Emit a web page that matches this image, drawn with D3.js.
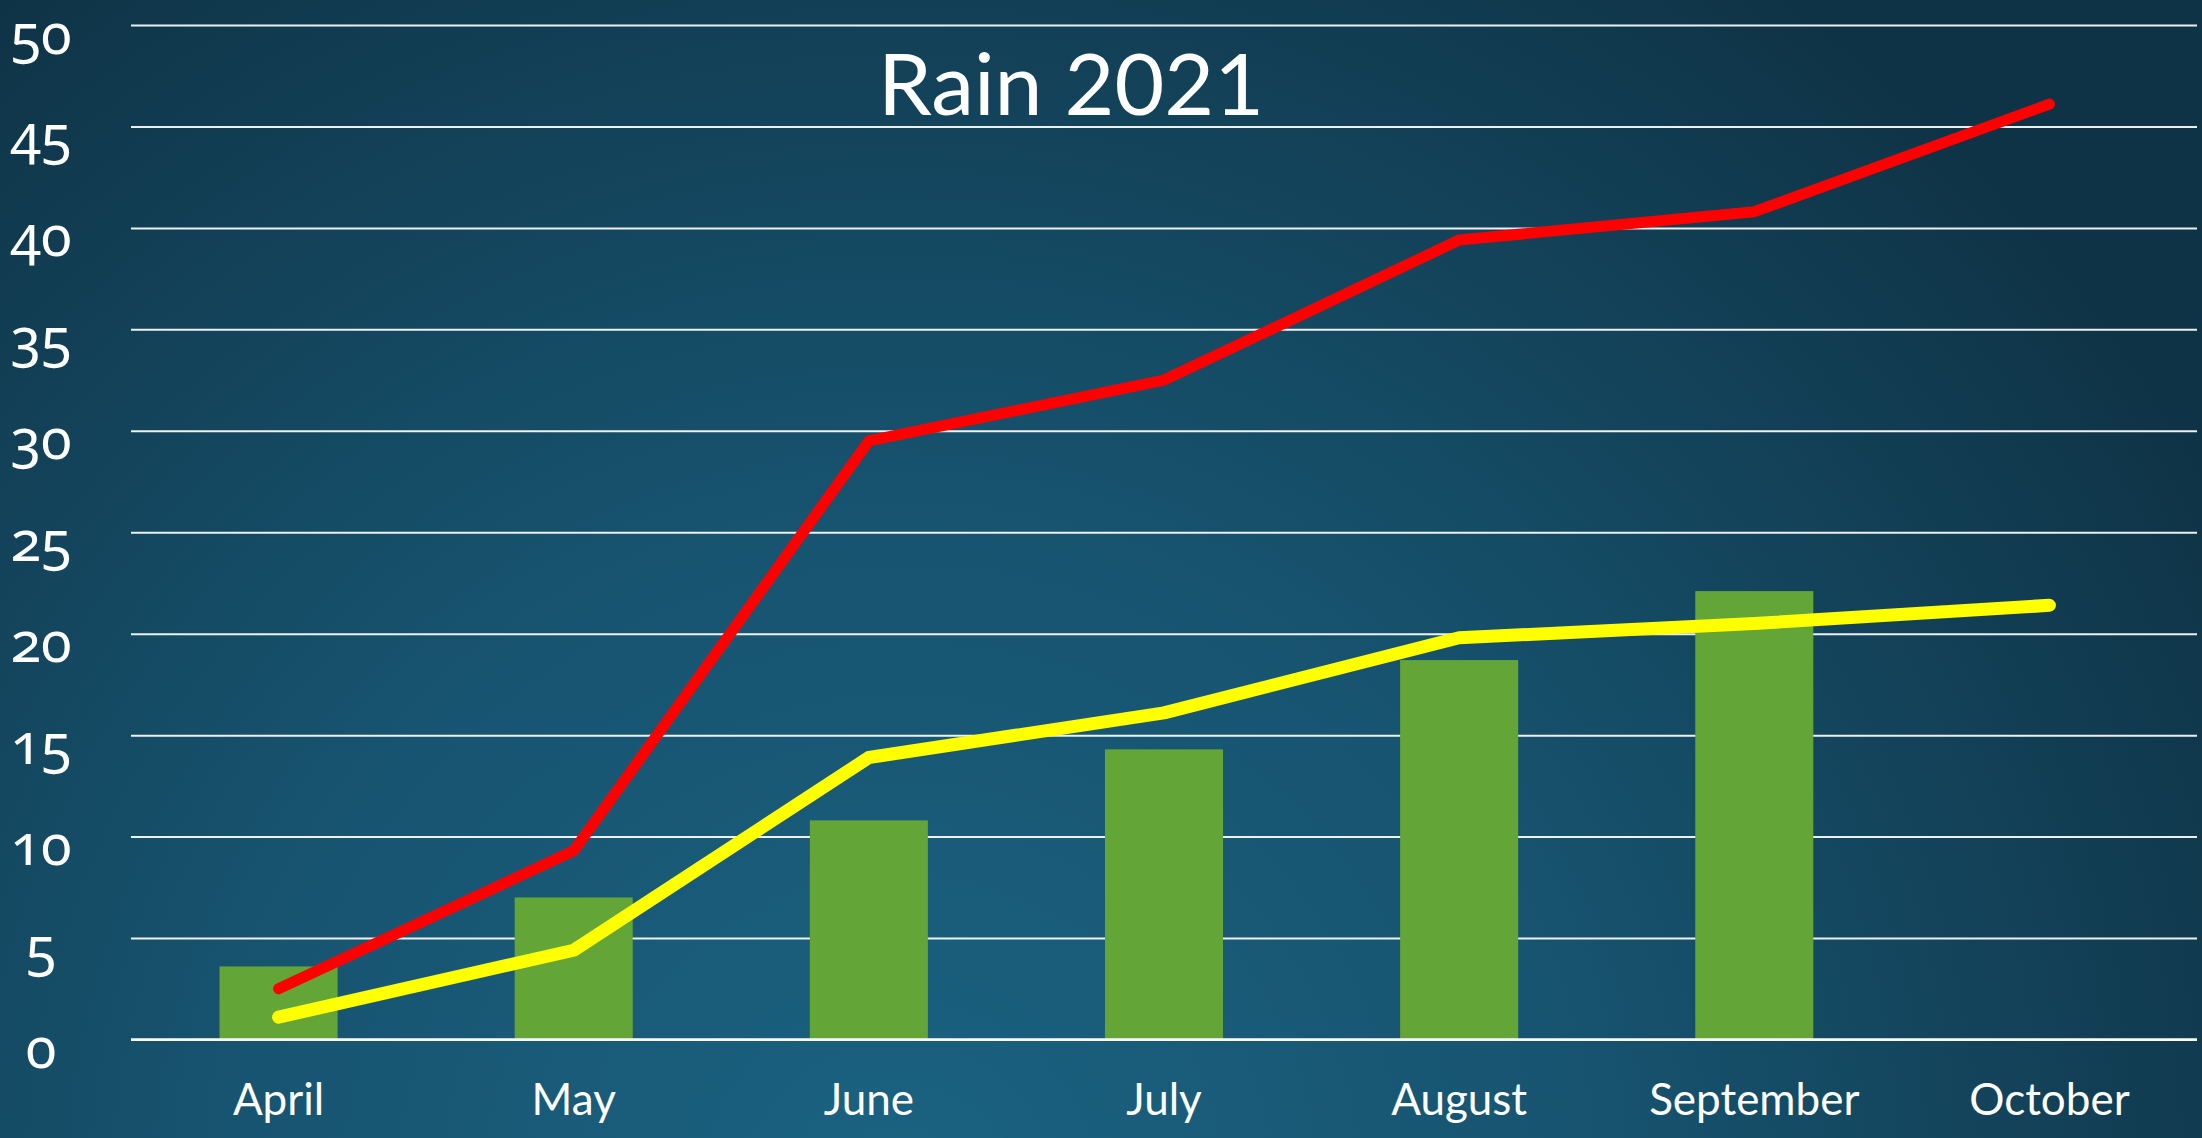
<!DOCTYPE html>
<html>
<head>
<meta charset="utf-8">
<script src="https://cdn.jsdelivr.net/npm/d3@7"></script>
<style>
  html, body { margin: 0; padding: 0; background: #133f55; }
  svg { display: block; }
</style>
</head>
<body>
<svg id="chart" width="2202" height="1138"></svg>
<script>
const categories = ["April", "May", "June", "July", "August", "September", "October"];
const barValues = [3.6, 7.0, 10.8, 14.3, 18.7, 22.1, null];
const redValues = [2.5, 9.3, 29.5, 32.5, 39.4, 40.8, 46.1];
const yellowValues = [1.1, 4.4, 13.9, 16.1, 19.8, 20.5, 21.4];
const yTicks = [0, 5, 10, 15, 20, 25, 30, 35, 40, 45, 50];
const title = "Rain 2021";

const W = 2202, H = 1138;
const plotLeft = 131, plotRight = 2197, plotTop = 25, plotBottom = 1039.5;

const svg = d3.select("#chart");

// background gradient
const defs = svg.append("defs");
const rg = defs.append("radialGradient").attr("id", "bg")
  .attr("gradientUnits", "userSpaceOnUse")
  .attr("cx", 900).attr("cy", 1200).attr("r", 1500);
rg.append("stop").attr("offset", "0%").attr("stop-color", "#1b6282");
rg.append("stop").attr("offset", "45%").attr("stop-color", "#175470");
rg.append("stop").attr("offset", "100%").attr("stop-color", "#0f3346");
svg.append("rect").attr("width", W).attr("height", H).attr("fill", "url(#bg)");

const x = d3.scaleBand().domain(categories).range([plotLeft, plotRight]).padding(0);
const y = d3.scaleLinear().domain([0, 50]).range([plotBottom, plotTop]);

// grid + y labels
const yAxis = svg.append("g")
  .attr("transform", `translate(${plotLeft},0)`)
  .call(d3.axisLeft(y).tickValues(yTicks).tickSize(-(plotRight - plotLeft)).tickFormat(d3.format("d")));
yAxis.select(".domain").remove();
yAxis.selectAll(".tick line").attr("stroke", "#ffffff").attr("stroke-width", 2).attr("stroke-opacity", 0.92);
yAxis.selectAll(".tick text")
  .attr("x", 41 - plotLeft)
  .attr("dy", "0.5em")
  .attr("text-anchor", "middle")
  .attr("fill", "#ffffff")
  .style("font-family", "'Noto Sans', 'Open Sans', sans-serif")
  .style("font-size", "56px")
  .style("font-variant-numeric", "oldstyle-nums")
  .style("font-feature-settings", "'onum' 1");

// bars
const barW = x.bandwidth() * 0.4;
svg.append("g").selectAll("rect")
  .data(categories.map((c, i) => ({ c, v: barValues[i] })).filter(d => d.v != null))
  .join("rect")
  .attr("x", d => x(d.c) + (x.bandwidth() - barW) / 2)
  .attr("width", barW)
  .attr("y", d => y(d.v))
  .attr("height", d => y(0) - y(d.v))
  .attr("fill", "#63a537");

// zero line on top of bars
svg.append("line")
  .attr("x1", plotLeft).attr("x2", plotRight)
  .attr("y1", y(0)).attr("y2", y(0))
  .attr("stroke", "#ffffff").attr("stroke-width", 2.5);

// lines
const line = d3.line()
  .x((d, i) => x(categories[i]) + x.bandwidth() / 2)
  .y(d => y(d));

svg.append("path")
  .datum(yellowValues)
  .attr("d", line)
  .attr("fill", "none")
  .attr("stroke", "#ffff00")
  .attr("stroke-width", 13)
  .attr("stroke-linecap", "round")
  .attr("stroke-linejoin", "round");

svg.append("path")
  .datum(redValues)
  .attr("d", line)
  .attr("fill", "none")
  .attr("stroke", "#ff0000")
  .attr("stroke-width", 11)
  .attr("stroke-linecap", "round")
  .attr("stroke-linejoin", "round");

// x labels
const xAxis = svg.append("g")
  .attr("transform", `translate(0,${plotBottom})`)
  .call(d3.axisBottom(x).tickSize(0));
xAxis.select(".domain").remove();
xAxis.selectAll(".tick text")
  .attr("y", 75)
  .attr("dy", 0)
  .attr("fill", "#ffffff")
  .style("font-family", "Lato, 'Open Sans', sans-serif")
  .style("font-size", "44px");

// title
svg.append("text")
  .attr("x", 1071)
  .attr("y", 115)
  .attr("text-anchor", "middle")
  .attr("fill", "#ffffff")
  .style("font-family", "Lato, 'Open Sans', sans-serif")
  .style("font-size", "86px")
  .text(title);
</script>
</body>
</html>
